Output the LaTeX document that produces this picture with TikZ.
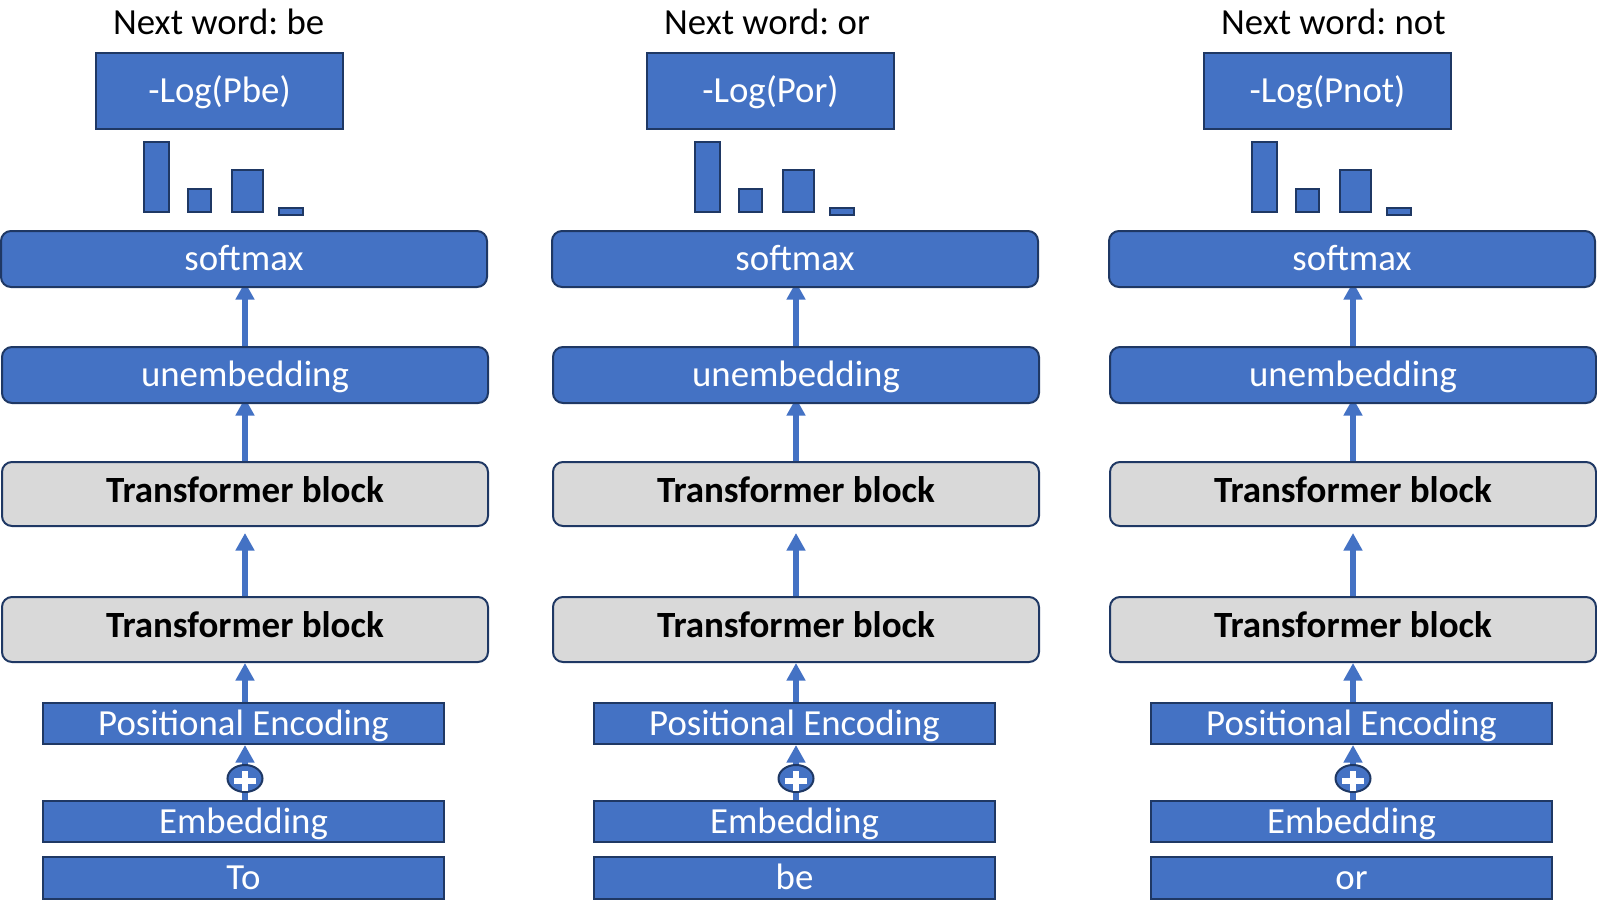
\documentclass[tikz,border=0pt]{standalone}
\usepackage{fontspec}
\setmainfont{Carlito}
\usetikzlibrary{arrows.meta,shapes.geometric}
\definecolor{obl}{HTML}{4472C4}
\definecolor{nav}{HTML}{1F3864}
\definecolor{lgr}{HTML}{D9D9D9}
\pgfdeclarelayer{bg}
\pgfsetlayers{bg,main}
\frenchspacing
\tikzset{
  bigfont/.style={font=\fontsize{36.8}{40}\selectfont},
  bluebox/.style={draw=nav, line width=2pt, fill=obl, text=white, bigfont,
    text height=23pt, text depth=0pt, inner sep=0pt},
  rbluebox/.style={bluebox, rounded corners=10pt},
  tbbox/.style={draw=nav, line width=2pt, fill=lgr, text=black,
    font=\fontsize{37}{40}\selectfont\bfseries, rounded corners=10pt,
    text height=16pt, text depth=0pt, inner sep=0pt},
  barbox/.style={draw=nav, line width=2pt, fill=obl},
  plusnode/.style={ellipse, draw=nav, line width=2pt, fill=obl, inner sep=0pt,
    minimum width=35pt, minimum height=27pt},
  conn/.style={draw=obl, line width=5.5pt, -{Triangle[width=18pt,length=17.5pt]}},
}
\begin{document}
\begin{tikzpicture}[x=1pt,y=-1pt]
\useasboundingbox (0,0) rectangle (1597,907);
\foreach \i/\dx/\nw/\lg/\inp in {1/0/be/Pbe/To, 2/551/or/Por/be, 3/1108/not/Pnot/or}{
  \node[anchor=base west, bigfont, inner sep=0pt] (nw\i) at (113+\dx,35) {Next word: \nw};
  \node[bluebox, minimum width=247pt, minimum height=76pt] (lg\i) at (219.5+\dx,91) {-Log(\lg)};
  \draw[barbox] (144+\dx,142) rectangle (169+\dx,212);
  \draw[barbox] (188+\dx,189) rectangle (211+\dx,212);
  \draw[barbox] (232+\dx,170) rectangle (263+\dx,212);
  \draw[barbox] (279+\dx,208) rectangle (303+\dx,215);
  \node[rbluebox, minimum width=486pt, minimum height=56pt] (sm\i) at (244+\dx,259) {softmax};
  \node[rbluebox, minimum width=486pt, minimum height=56pt] (un\i) at (245+\dx,375) {unembedding};
  \node[tbbox, minimum width=486pt, minimum height=64pt] (tbu\i) at (245+\dx,494) {Transformer block};
  \node[tbbox, minimum width=486pt, minimum height=65pt] (tbl\i) at (245+\dx,629.5) {Transformer block};
  \node[bluebox, minimum width=401pt, minimum height=41pt] (pe\i) at (243.5+\dx,723.5) {Positional Encoding};
  \node[bluebox, minimum width=401pt, minimum height=41pt] (emb\i) at (243.5+\dx,821.5) {Embedding};
  \node[bluebox, minimum width=401pt, minimum height=42pt] (in\i) at (243.5+\dx,878) {\inp};
  \coordinate (ax\i) at (245+\dx,778.5);
  \begin{pgfonlayer}{bg}
    \draw[conn, shorten >=-6pt] (un\i.north -| ax\i) -- (sm\i.south -| ax\i);
    \draw[conn, shorten >=-6pt] (tbu\i.north -| ax\i) -- (un\i.south -| ax\i);
    \draw[conn, shorten >=6pt] (tbl\i.north -| ax\i) -- (tbu\i.south -| ax\i);
    \draw[conn] (pe\i.north -| ax\i) -- (tbl\i.south -| ax\i);
    \draw[conn] (emb\i.north -| ax\i) -- (pe\i.south -| ax\i);
  \end{pgfonlayer}
  \node[plusnode] (pl\i) at (ax\i) {};
  \draw[white, line width=6pt] ([xshift=-11pt,yshift=-2.5pt]pl\i.center) -- ([xshift=11pt,yshift=-2.5pt]pl\i.center);
  \draw[white, line width=6pt] ([yshift=7.5pt]pl\i.center) -- ([yshift=-12.5pt]pl\i.center);
}
\end{tikzpicture}
\end{document}
